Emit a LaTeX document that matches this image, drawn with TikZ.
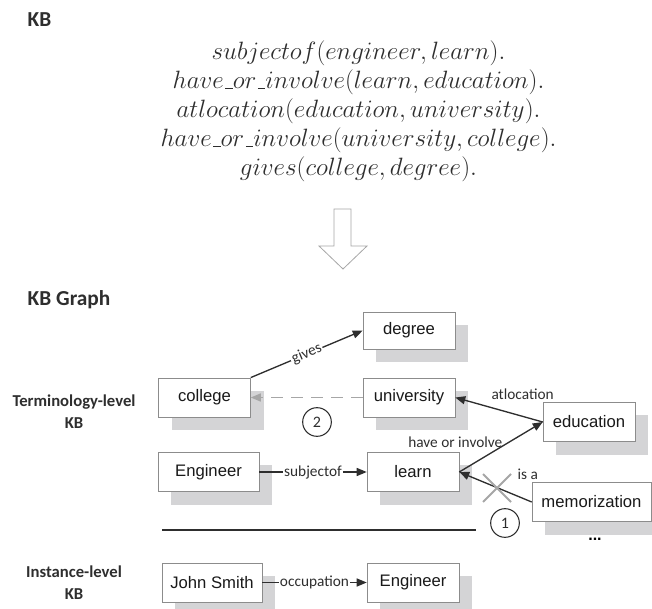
\documentclass[tikz,border=0pt]{standalone}
\usepackage{fix-cm}
\usepackage{fontspec}
\setmainfont{Liberation Sans}
\newfontfamily\calfont{Carlito}
\usepackage{tikz}
\usetikzlibrary{arrows.meta,positioning,shadows}
\definecolor{shade}{HTML}{D4D4D6}
\definecolor{boxline}{HTML}{8C8C8C}
\definecolor{ink}{HTML}{2E2E2E}
\definecolor{faint}{HTML}{A6A6A6}
\newcommand{\kbbar}{\kern.06em\vbox{\hrule width.3em}}

\begin{document}
\begin{tikzpicture}[x=0.75pt,y=-0.75pt,
    kbbox/.style={draw=boxline,fill=white,minimum width=69pt,minimum height=29.5pt,inner sep=2pt,
      font=\fontsize{12.5}{15}\selectfont,text=black!90,
      drop shadow={shadow xshift=9.75pt,shadow yshift=-9.75pt,fill=shade,opacity=1}},
    rel/.style={draw=ink,line width=1pt,-{Triangle[length=7.5pt,width=6pt]}},
    lbl/.style={font=\calfont\fontsize{11.5}{13}\selectfont,text=ink,inner sep=1pt},
    head/.style={font=\calfont\bfseries\fontsize{16}{19}\selectfont,text=ink,anchor=west},
    level/.style={font=\calfont\bfseries\fontsize{12.5}{17}\selectfont,text=ink,align=center},
    tag/.style={circle,draw=ink,line width=0.8pt,minimum size=21.5pt,inner sep=0pt,
      font=\calfont\fontsize{12}{14}\selectfont,text=ink},
    fact/.style={anchor=base,font=\fontsize{18.8}{22}\selectfont,text=ink}]
  \useasboundingbox (0,0) rectangle (652,609);

  \node[head] (kb) at (23,20) {KB};
  \foreach \ftxt [count=\k] in {{subjectof(engineer,learn).},
      {have\kbbar or\kbbar involve(learn,education).},
      {atlocation(education,university).},
      {have\kbbar or\kbbar involve(university,college).},
      {gives(college,degree).}}
    \node[fact] (fact\k) at (358.5,{31+29*\k}) {$\ftxt$};

  \draw[draw=faint,fill=white,line width=0.6pt] (334,209) -- (351,209) -- (351,246) -- (367,246)
    -- (343,269) -- (319,246) -- (334,246) -- cycle;

  \node[head] (kbgraph) at (23,300) {KB Graph};
  \node[level] (termlvl) at (74,411.5) {Terminology-level\\KB};
  \node[level] (instlvl) at (74,582.5) {Instance-level\\KB};

  \node[kbbox,minimum height=28pt] (degree) at (409,330.5) {degree};
  \node[kbbox] (college) at (204.5,397.5) {college};
  \node[kbbox] (university) at (409,397.5) {university};
  \node[kbbox] (education) at (589,422) {education};
  \node[kbbox,minimum width=75.75pt] (engineer) at (208.5,472) {Engineer};
  \node[kbbox] (learn) at (413,472) {learn};
  \node[kbbox,minimum width=89.25pt] (memorization) at (591.5,502) {memorization};
  \node[kbbox,minimum width=75pt] (johnsmith) at (212,582.5) {John Smith};
  \node[kbbox] (engineerinst) at (413,582.5) {Engineer};

  \draw[rel] (college.north east) -- node[lbl,sloped,fill=white] {gives} (degree.west);
  \draw[rel,draw=faint,dash pattern=on 9pt off 6pt] (university.west) -- (college.east);
  \draw[rel] (education.west) -- node[lbl,pos=0.23,above=11pt] {atlocation} (university.east);
  \draw[rel] (learn.east) -- node[lbl,pos=0,above=17pt,xshift=-3pt] {have or involve} (education.west);
  \draw[rel] (memorization.west) -- node[lbl,pos=0,above=15pt,xshift=-3pt] {is a} (learn.east);
  \draw[rel] (engineer.east) -- node[lbl,fill=white] {subjectof} (learn.west);
  \draw[rel] (johnsmith.east) -- node[lbl,fill=white] {occupation} (engineerinst.west);

  \coordinate (cut) at (497,488);
  \draw[faint,line width=1.5pt] ([shift={(-14,-14)}]cut) -- ([shift={(14,14)}]cut)
    ([shift={(-14,14)}]cut) -- ([shift={(14,-14)}]cut);
  \node[tag] (tag2) at (317,422) {2};
  \node[tag] (tag1) at (505,523) {1};
  \node[anchor=base,font=\bfseries\fontsize{12}{14}\selectfont] (more) at (595,540) {...};

  \draw[ink,line width=0.9pt] (162,530) -- (476,530);
\end{tikzpicture}
\end{document}
